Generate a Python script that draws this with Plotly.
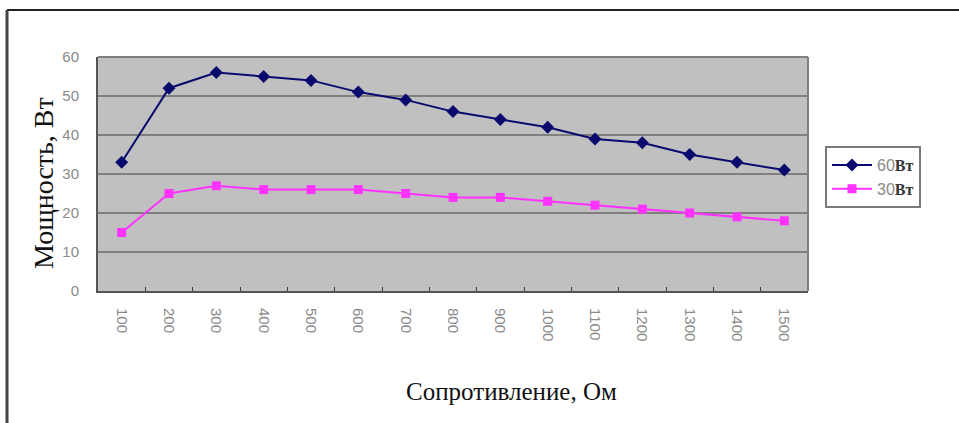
import plotly.graph_objects as go

# Load resistance (Ohm) and measured power for two lamp ratings
resistance = ["100", "200", "300", "400", "500", "600", "700", "800",
              "900", "1000", "1100", "1200", "1300", "1400", "1500"]
power_60w = [33, 52, 56, 55, 54, 51, 49, 46, 44, 42, 39, 38, 35, 33, 31]
power_30w = [15, 25, 27, 26, 26, 26, 25, 24, 24, 23, 22, 21, 20, 19, 18]
y_ticks = [0, 10, 20, 30, 40, 50, 60]

W, H = 959, 423
L, R, T, B = 98, 151, 57, 132

serif = "Liberation Serif, Times New Roman, serif"
sans = "Liberation Sans, Arial, sans-serif"


def legend_name(num):
    return (f"<span style='color:#8a8a8a'>{num}</span>"
            f"<span style='font-family:{serif};font-weight:bold;color:#333'>Вт</span>")


fig = go.Figure()
fig.add_trace(go.Scatter(
    x=resistance, y=power_60w, name=legend_name("60"),
    mode="lines+markers",
    line=dict(color="#0a0a6e", width=2),
    marker=dict(symbol="diamond", size=10, color="#0a0a6e"),
))
fig.add_trace(go.Scatter(
    x=resistance, y=power_30w, name=legend_name("30"),
    mode="lines+markers",
    line=dict(color="#ff33ff", width=2),
    marker=dict(symbol="square", size=9, color="#ff33ff"),
))

fig.update_layout(
    width=W, height=H,
    margin=dict(l=L, r=R, t=T, b=B),
    paper_bgcolor="white",
    plot_bgcolor="#c0c0c0",
    font=dict(family=sans, size=14, color="#8a8a8a"),
    showlegend=True,
    legend=dict(
        x=(825 - L) / (W - L - R), y=(H - B - 146) / (H - T - B),
        xanchor="left", yanchor="top",
        bgcolor="white", bordercolor="#7a7a7a", borderwidth=2,
        font=dict(family=sans, size=16, color="#8a8a8a"),
        tracegroupgap=0, itemwidth=40,
    ),
    xaxis=dict(
        type="category",
        tickson="boundaries",
        ticks="inside", ticklen=4, tickcolor="#404040",
        tickangle=90,
        showgrid=False,
        showline=True, linecolor="#555555", linewidth=2,
        mirror=False,
        ticklabelstandoff=12,
        tickfont=dict(family=sans, size=15, color="#8a8a8a"),
        range=[-0.5, len(resistance) - 0.5],
    ),
    yaxis=dict(
        range=[0, 60],
        tickvals=y_ticks,
        ticks="",
        showgrid=True, gridcolor="#7f7f7f", gridwidth=2,
        showline=True, linecolor="#555555", linewidth=2,
        zeroline=False,
        ticklabelstandoff=14,
        tickfont=dict(family=sans, size=15, color="#8a8a8a"),
    ),
    shapes=[
        # plot frame (top and right edges)
        dict(type="line", xref="paper", yref="paper", x0=0, x1=1, y0=1, y1=1,
             line=dict(color="#7f7f7f", width=2)),
        dict(type="line", xref="paper", yref="paper", x0=1, x1=1, y0=0, y1=1,
             line=dict(color="#7f7f7f", width=2)),
        # outer figure frame: top and left edges
        dict(type="line", xref="paper", yref="paper",
             x0=(7 - L) / (W - L - R), x1=(W - L) / (W - L - R),
             y0=(H - B - 10) / (H - T - B), y1=(H - B - 10) / (H - T - B),
             line=dict(color="#222222", width=2)),
        dict(type="line", xref="paper", yref="paper",
             x0=(7 - L) / (W - L - R), x1=(7 - L) / (W - L - R),
             y0=(H - B - 10) / (H - T - B), y1=(H - B - H) / (H - T - B),
             line=dict(color="#444444", width=3)),
    ],
    annotations=[
        dict(text="Сопротивление, Ом", xref="paper", yref="paper",
             x=(511 - L) / (W - L - R), y=(H - B - 391) / (H - T - B),
             xanchor="center", yanchor="middle", showarrow=False,
             font=dict(family=serif, size=25, color="#111111")),
        dict(text="Мощность, Вт", xref="paper", yref="paper",
             x=(43 - L) / (W - L - R), y=(H - B - 183) / (H - T - B),
             xanchor="center", yanchor="middle", showarrow=False,
             textangle=-90,
             font=dict(family=serif, size=28, color="#111111")),
    ],
)

fig.write_html("out.html")
